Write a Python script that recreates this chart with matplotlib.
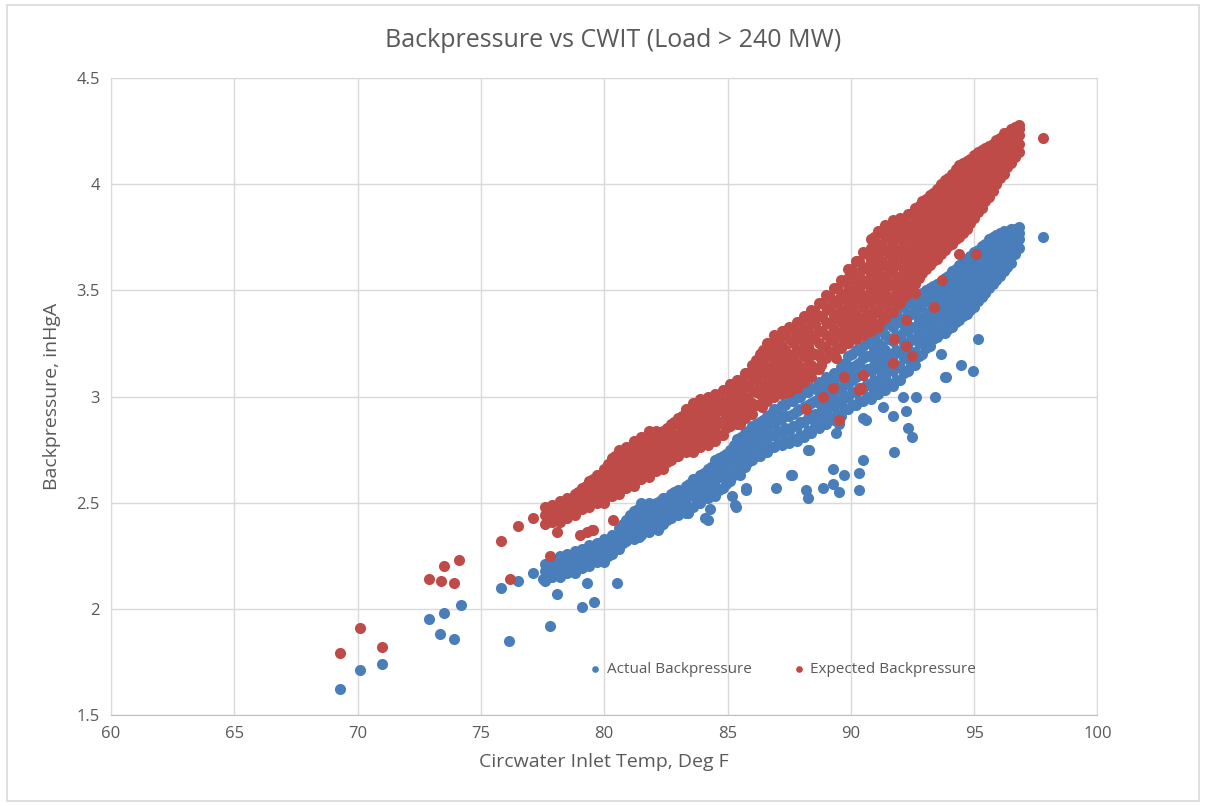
import matplotlib
matplotlib.use("Agg")
import matplotlib.pyplot as plt
from matplotlib.patches import Rectangle
from matplotlib.ticker import FormatStrFormatter

TEXT = "#595959"
GRID = "#D9D9D9"
BLUE = "#4A7EBB"
RED = "#BE4B48"

# Dense part of both series, one column of readings per inlet temperature
band_temp = [77.6, 77.9, 78.2, 78.5, 78.8, 79.1, 79.4, 79.7, 80.0, 80.3,
             80.6, 80.9, 81.2, 81.5, 81.8, 82.1, 82.4, 82.7, 83.0, 83.3,
             83.6, 83.9, 84.2, 84.5, 84.8, 85.1, 85.4, 85.7, 86.0, 86.3,
             86.6, 86.9, 87.2, 87.5, 87.8, 88.1, 88.4, 88.7, 89.0, 89.3,
             89.6, 89.9, 90.2, 90.5, 90.8, 91.1, 91.4, 91.7, 92.0, 92.3,
             92.6, 92.9, 93.2, 93.5, 93.8, 94.1, 94.4, 94.7, 95.0, 95.3,
             95.6, 95.9, 96.2, 96.5, 96.8]

band_mid_temp = [77.75, 78.05, 78.35, 78.65, 78.95, 79.25, 79.55, 79.85, 80.15, 80.45,
                 80.75, 81.05, 81.35, 81.65, 81.95, 82.25, 82.55, 82.85, 83.15, 83.45,
                 83.75, 84.05, 84.35, 84.65, 84.95, 85.25, 85.55, 85.85, 86.15, 86.45,
                 86.75, 87.05, 87.35, 87.65, 87.95, 88.25, 88.55, 88.85, 89.15, 89.45,
                 89.75, 90.05, 90.35, 90.65, 90.95, 91.25, 91.55, 91.85, 92.15, 92.45,
                 92.75, 93.05, 93.35, 93.65, 93.95, 94.25, 94.55, 94.85, 95.15, 95.45,
                 95.75, 96.05, 96.35, 96.65]

actual_band_bp = [
    [2.13, 2.18, 2.21], [2.15, 2.20, 2.23], [2.15, 2.20, 2.25], [2.17, 2.22, 2.26],
    [2.17, 2.22, 2.27], [2.19, 2.24, 2.28], [2.20, 2.25, 2.30], [2.22, 2.27, 2.31],
    [2.22, 2.28, 2.33], [2.26, 2.31, 2.35], [2.28, 2.33, 2.38], [2.32, 2.37, 2.42],
    [2.33, 2.38, 2.43, 2.46], [2.35, 2.40, 2.45, 2.50], [2.36, 2.41, 2.46, 2.50],
    [2.39, 2.44, 2.50], [2.40, 2.45, 2.49, 2.52], [2.43, 2.48, 2.54],
    [2.44, 2.49, 2.53, 2.56], [2.47, 2.52, 2.58], [2.48, 2.53, 2.57, 2.61],
    [2.50, 2.55, 2.59, 2.63], [2.52, 2.57, 2.62, 2.66], [2.53, 2.58, 2.64, 2.70],
    [2.57, 2.62, 2.67, 2.72], [2.60, 2.65, 2.70, 2.75], [2.64, 2.69, 2.75, 2.80],
    [2.67, 2.72, 2.78, 2.83], [2.70, 2.75, 2.81, 2.86], [2.72, 2.77, 2.83, 2.88],
    [2.74, 2.80, 2.86, 2.91], [2.76, 2.82, 2.88, 2.94], [2.77, 2.83, 2.90, 2.96],
    [2.78, 2.84, 2.91, 2.98], [2.79, 2.86, 2.93, 3.00], [2.81, 2.88, 2.95, 3.02],
    [2.83, 2.90, 2.97, 3.04], [2.85, 2.91, 2.97, 3.02, 3.07],
    [2.87, 2.93, 2.99, 3.04, 3.09], [2.89, 2.95, 3.00, 3.06, 3.11],
    [2.91, 2.97, 3.03, 3.09, 3.14], [2.94, 3.00, 3.06, 3.12, 3.19],
    [2.96, 3.02, 3.09, 3.15, 3.22], [2.98, 3.04, 3.11, 3.18, 3.24],
    [2.99, 3.05, 3.12, 3.19, 3.25, 3.28], [3.01, 3.07, 3.13, 3.19, 3.25, 3.31],
    [3.03, 3.09, 3.16, 3.22, 3.29, 3.35], [3.05, 3.12, 3.19, 3.26, 3.33, 3.39],
    [3.08, 3.14, 3.21, 3.28, 3.35, 3.42], [3.12, 3.18, 3.25, 3.31, 3.38, 3.44],
    [3.15, 3.21, 3.27, 3.33, 3.40, 3.46], [3.20, 3.26, 3.32, 3.37, 3.43, 3.49],
    [3.24, 3.29, 3.35, 3.40, 3.46, 3.51], [3.28, 3.33, 3.38, 3.43, 3.48, 3.53],
    [3.30, 3.35, 3.41, 3.46, 3.51, 3.56], [3.33, 3.38, 3.43, 3.49, 3.54, 3.59],
    [3.36, 3.41, 3.46, 3.52, 3.57, 3.62], [3.39, 3.44, 3.49, 3.55, 3.60, 3.65],
    [3.42, 3.47, 3.52, 3.58, 3.63, 3.68], [3.47, 3.52, 3.57, 3.62, 3.67, 3.71],
    [3.51, 3.56, 3.61, 3.65, 3.70, 3.74], [3.55, 3.60, 3.64, 3.68, 3.72, 3.76],
    [3.59, 3.63, 3.67, 3.71, 3.75, 3.78], [3.63, 3.67, 3.71, 3.75, 3.79],
    [3.70, 3.74, 3.77, 3.80],
]

actual_mid_bp = [
    [2.15, 2.20], [2.17, 2.22], [2.18, 2.23], [2.19, 2.24], [2.20, 2.25],
    [2.21, 2.27], [2.23, 2.28], [2.24, 2.30], [2.25, 2.31], [2.28, 2.34],
    [2.31, 2.36, 2.40], [2.34, 2.39, 2.44], [2.35, 2.41, 2.47], [2.37, 2.43, 2.48],
    [2.38, 2.43, 2.48], [2.41, 2.46, 2.51], [2.42, 2.47, 2.52], [2.45, 2.50, 2.55],
    [2.46, 2.51, 2.56], [2.48, 2.54, 2.59], [2.50, 2.56, 2.61], [2.52, 2.58, 2.64],
    [2.54, 2.60, 2.67], [2.56, 2.62, 2.68, 2.71], [2.59, 2.65, 2.70, 2.73],
    [2.63, 2.68, 2.73, 2.77], [2.66, 2.71, 2.76, 2.81], [2.69, 2.74, 2.79, 2.84],
    [2.72, 2.77, 2.82, 2.87], [2.74, 2.79, 2.84, 2.89], [2.76, 2.82, 2.87, 2.92],
    [2.78, 2.84, 2.89, 2.94], [2.79, 2.85, 2.91, 2.96], [2.80, 2.86, 2.92, 2.98],
    [2.82, 2.88, 2.94, 3.00], [2.84, 2.90, 2.96, 3.02], [2.86, 2.92, 2.98, 3.04],
    [2.88, 2.94, 3.00, 3.06], [2.90, 2.96, 3.02, 3.08], [2.92, 2.98, 3.04, 3.10],
    [2.94, 3.00, 3.06, 3.12, 3.16], [2.96, 3.02, 3.08, 3.14, 3.20],
    [2.98, 3.04, 3.10, 3.16, 3.22], [3.00, 3.06, 3.13, 3.19, 3.25],
    [3.02, 3.08, 3.15, 3.22, 3.28], [3.04, 3.10, 3.17, 3.24, 3.31],
    [3.06, 3.13, 3.20, 3.27, 3.34], [3.08, 3.15, 3.22, 3.29, 3.36, 3.40],
    [3.11, 3.18, 3.25, 3.31, 3.37, 3.42], [3.15, 3.21, 3.27, 3.33, 3.39, 3.44],
    [3.19, 3.25, 3.30, 3.36, 3.42, 3.47], [3.23, 3.28, 3.34, 3.39, 3.45, 3.50],
    [3.27, 3.32, 3.37, 3.42, 3.47, 3.52], [3.30, 3.35, 3.40, 3.45, 3.50, 3.54],
    [3.32, 3.37, 3.42, 3.47, 3.52, 3.57], [3.35, 3.40, 3.45, 3.50, 3.55, 3.60],
    [3.38, 3.43, 3.48, 3.53, 3.58, 3.63], [3.41, 3.46, 3.51, 3.56, 3.61, 3.66],
    [3.45, 3.50, 3.55, 3.60, 3.65, 3.69], [3.49, 3.54, 3.59, 3.64, 3.68, 3.72],
    [3.53, 3.58, 3.62, 3.66, 3.70, 3.75], [3.57, 3.61, 3.65, 3.69, 3.73, 3.77],
    [3.61, 3.65, 3.69, 3.73, 3.77], [3.67, 3.71, 3.75, 3.79],
]

expected_band_bp = [
    [2.40, 2.44, 2.48], [2.41, 2.46, 2.49], [2.41, 2.46, 2.51], [2.43, 2.48, 2.52],
    [2.44, 2.49, 2.54], [2.47, 2.52, 2.57], [2.48, 2.53, 2.58, 2.60],
    [2.50, 2.55, 2.60, 2.63], [2.50, 2.55, 2.61, 2.66],
    [2.53, 2.58, 2.63, 2.68, 2.71], [2.54, 2.59, 2.64, 2.70, 2.75],
    [2.57, 2.62, 2.67, 2.72, 2.76], [2.58, 2.63, 2.68, 2.74, 2.79],
    [2.61, 2.66, 2.71, 2.76, 2.81], [2.62, 2.67, 2.72, 2.78, 2.84],
    [2.65, 2.70, 2.75, 2.80, 2.84], [2.66, 2.71, 2.76, 2.81, 2.84],
    [2.70, 2.74, 2.79, 2.84, 2.87], [2.72, 2.77, 2.82, 2.87, 2.90],
    [2.74, 2.79, 2.84, 2.89, 2.94], [2.74, 2.80, 2.85, 2.91, 2.97],
    [2.76, 2.81, 2.87, 2.93, 2.99], [2.77, 2.83, 2.89, 2.95, 3.00],
    [2.79, 2.84, 2.90, 2.96, 3.01], [2.82, 2.87, 2.93, 2.98, 3.03],
    [2.86, 2.91, 2.96, 3.01, 3.06], [2.87, 2.93, 2.98, 3.03, 3.08],
    [2.90, 2.95, 3.00, 3.06, 3.11], [2.92, 2.97, 3.03, 3.09, 3.15],
    [2.96, 3.01, 3.06, 3.11, 3.16, 3.20], [2.98, 3.03, 3.09, 3.14, 3.20, 3.25],
    [3.00, 3.06, 3.11, 3.17, 3.23, 3.29], [3.01, 3.06, 3.12, 3.18, 3.24, 3.31],
    [3.02, 3.08, 3.14, 3.20, 3.27, 3.33], [3.04, 3.10, 3.16, 3.22, 3.29, 3.35],
    [3.07, 3.13, 3.19, 3.25, 3.32, 3.38], [3.09, 3.15, 3.21, 3.28, 3.35, 3.41],
    [3.13, 3.19, 3.25, 3.31, 3.38, 3.44], [3.18, 3.23, 3.29, 3.35, 3.42, 3.48],
    [3.20, 3.26, 3.32, 3.38, 3.45, 3.51], [3.23, 3.29, 3.35, 3.41, 3.48, 3.55],
    [3.25, 3.31, 3.38, 3.44, 3.50, 3.56, 3.60],
    [3.27, 3.33, 3.39, 3.46, 3.52, 3.58, 3.64],
    [3.29, 3.35, 3.42, 3.48, 3.55, 3.61, 3.68],
    [3.31, 3.37, 3.44, 3.50, 3.57, 3.64, 3.70, 3.74],
    [3.33, 3.40, 3.46, 3.53, 3.59, 3.66, 3.72, 3.78],
    [3.37, 3.43, 3.49, 3.56, 3.62, 3.69, 3.75, 3.81],
    [3.40, 3.46, 3.52, 3.58, 3.65, 3.71, 3.77, 3.83],
    [3.44, 3.50, 3.56, 3.62, 3.68, 3.74, 3.79, 3.84],
    [3.49, 3.54, 3.60, 3.66, 3.71, 3.76, 3.81, 3.86],
    [3.53, 3.58, 3.64, 3.69, 3.74, 3.79, 3.84, 3.89],
    [3.58, 3.63, 3.68, 3.73, 3.78, 3.83, 3.88, 3.92],
    [3.62, 3.67, 3.72, 3.77, 3.81, 3.86, 3.91, 3.95],
    [3.65, 3.70, 3.75, 3.80, 3.85, 3.89, 3.94, 3.98],
    [3.69, 3.74, 3.79, 3.84, 3.88, 3.93, 3.98, 4.02],
    [3.72, 3.77, 3.82, 3.87, 3.91, 3.96, 4.01, 4.05],
    [3.75, 3.80, 3.85, 3.90, 3.95, 4.00, 4.05, 4.09],
    [3.79, 3.84, 3.89, 3.94, 3.98, 4.03, 4.07, 4.11],
    [3.84, 3.89, 3.93, 3.98, 4.02, 4.06, 4.10, 4.14],
    [3.89, 3.94, 3.98, 4.03, 4.07, 4.12, 4.16],
    [3.94, 3.99, 4.03, 4.07, 4.11, 4.15, 4.18],
    [4.00, 4.04, 4.08, 4.12, 4.17, 4.21],
    [4.05, 4.09, 4.13, 4.17, 4.21, 4.24],
    [4.10, 4.14, 4.18, 4.22, 4.26],
    [4.15, 4.19, 4.23, 4.26, 4.28],
]

expected_mid_bp = [
    [2.42, 2.47], [2.43, 2.48], [2.44, 2.49], [2.46, 2.51], [2.47, 2.52, 2.55],
    [2.49, 2.55, 2.58], [2.51, 2.56, 2.61], [2.52, 2.57, 2.63],
    [2.53, 2.58, 2.63, 2.68], [2.55, 2.61, 2.66, 2.72], [2.57, 2.62, 2.68, 2.74],
    [2.59, 2.65, 2.70, 2.76], [2.61, 2.66, 2.72, 2.78], [2.63, 2.69, 2.75, 2.81],
    [2.65, 2.70, 2.76, 2.82], [2.67, 2.73, 2.78, 2.83], [2.69, 2.74, 2.79, 2.85],
    [2.72, 2.77, 2.82, 2.88], [2.75, 2.80, 2.86, 2.91], [2.76, 2.82, 2.88, 2.94],
    [2.77, 2.83, 2.89, 2.96], [2.78, 2.84, 2.91, 2.97], [2.80, 2.86, 2.92, 2.98],
    [2.82, 2.88, 2.94, 3.00], [2.85, 2.91, 2.97, 3.03], [2.88, 2.94, 3.00, 3.05],
    [2.90, 2.96, 3.02, 3.08], [2.93, 2.99, 3.05, 3.11],
    [2.96, 3.02, 3.08, 3.13, 3.17], [2.99, 3.05, 3.11, 3.17, 3.22],
    [3.01, 3.07, 3.13, 3.19, 3.25], [3.02, 3.08, 3.14, 3.21, 3.27],
    [3.03, 3.09, 3.16, 3.22, 3.29], [3.05, 3.11, 3.18, 3.25, 3.32],
    [3.08, 3.14, 3.21, 3.28, 3.34], [3.10, 3.17, 3.24, 3.31, 3.37],
    [3.13, 3.20, 3.27, 3.34, 3.40], [3.17, 3.24, 3.31, 3.38, 3.44],
    [3.21, 3.27, 3.34, 3.41, 3.47], [3.23, 3.30, 3.37, 3.44, 3.51],
    [3.26, 3.33, 3.40, 3.47, 3.54], [3.28, 3.35, 3.42, 3.49, 3.55, 3.60],
    [3.30, 3.37, 3.44, 3.51, 3.58, 3.64], [3.32, 3.39, 3.46, 3.53, 3.60, 3.67],
    [3.34, 3.41, 3.48, 3.55, 3.62, 3.69, 3.75],
    [3.36, 3.43, 3.50, 3.57, 3.64, 3.71, 3.78],
    [3.40, 3.46, 3.53, 3.60, 3.67, 3.74, 3.80],
    [3.43, 3.49, 3.55, 3.62, 3.68, 3.75, 3.82],
    [3.47, 3.53, 3.59, 3.65, 3.71, 3.77, 3.83],
    [3.52, 3.57, 3.63, 3.69, 3.74, 3.80, 3.86],
    [3.56, 3.61, 3.66, 3.71, 3.76, 3.81, 3.86, 3.90],
    [3.60, 3.65, 3.70, 3.75, 3.80, 3.84, 3.89, 3.93],
    [3.64, 3.69, 3.74, 3.78, 3.83, 3.87, 3.92, 3.96],
    [3.67, 3.72, 3.77, 3.82, 3.86, 3.91, 3.96, 4.00],
    [3.71, 3.76, 3.80, 3.85, 3.90, 3.94, 3.99, 4.03],
    [3.74, 3.79, 3.83, 3.88, 3.93, 3.98, 4.03, 4.07],
    [3.77, 3.82, 3.87, 3.92, 3.97, 4.01, 4.06, 4.10],
    [3.82, 3.87, 3.91, 3.96, 4.00, 4.04, 4.08, 4.12],
    [3.87, 3.91, 3.96, 4.00, 4.05, 4.09, 4.13, 4.15],
    [3.92, 3.96, 4.01, 4.05, 4.09, 4.13, 4.17],
    [3.97, 4.02, 4.06, 4.10, 4.15, 4.19],
    [4.03, 4.07, 4.11, 4.15, 4.19, 4.22],
    [4.08, 4.12, 4.16, 4.20, 4.24],
    [4.13, 4.17, 4.21, 4.25, 4.27],
]

# Sparse readings outside the dense band
actual_temp = [69.3, 70.1, 71.0, 72.9, 73.5, 74.2, 73.35, 73.9, 75.8, 76.15,
               76.5, 77.1, 77.5, 77.8, 78.1, 79.1, 79.3, 79.6, 80.5, 81.4,
               82.2, 83.3, 84.1, 84.3, 85.35, 85.76, 86.97, 88.19, 88.26, 88.86,
               89.27, 89.54, 90.35, 90.35, 90.49, 89.27, 89.74, 87.58, 88.26, 91.76,
               85.2, 85.76, 85.49, 85.3, 84.2, 89.4, 89.54, 90.62, 91.3, 91.7,
               92.24, 92.3, 92.5, 92.1, 92.64, 93.4, 93.8, 93.66, 94.47, 94.94,
               95.15, 93.86, 97.78, 88.3, 87.6, 90.5, 83.4, 82.25]
actual_bp = [1.62, 1.71, 1.74, 1.95, 1.98, 2.02, 1.88, 1.86, 2.10, 1.85,
             2.13, 2.17, 2.14, 1.92, 2.07, 2.01, 2.12, 2.03, 2.12, 2.34,
             2.37, 2.45, 2.43, 2.47, 2.48, 2.57, 2.57, 2.56, 2.52, 2.57,
             2.59, 2.55, 2.56, 2.64, 2.70, 2.66, 2.63, 2.63, 2.75, 2.74,
             2.53, 2.56, 2.63, 2.49, 2.42, 2.83, 2.87, 2.89, 2.95, 2.91,
             2.93, 2.85, 2.81, 3.00, 3.00, 3.00, 3.09, 3.20, 3.15, 3.12,
             3.27, 3.09, 3.75, 2.75, 2.63, 2.90, 2.45, 2.39]

expected_temp = [69.3, 70.1, 71.0, 72.9, 73.4, 73.5, 73.9, 74.1, 75.8, 76.2,
                 76.5, 77.1, 77.8, 78.1, 79.0, 79.3, 79.5, 80.35, 79.55, 85.8,
                 85.5, 86.4, 88.19, 89.54, 88.86, 89.27, 90.42, 90.49, 89.74, 91.7,
                 92.5, 92.24, 91.76, 92.24, 93.39, 88.8, 89.4, 95.08, 93.7, 92.6,
                 94.0, 94.4, 90.35, 97.78]
expected_bp = [1.79, 1.91, 1.82, 2.14, 2.13, 2.20, 2.12, 2.23, 2.32, 2.14,
               2.39, 2.43, 2.25, 2.36, 2.35, 2.36, 2.37, 2.42, 2.37, 2.92,
               2.87, 2.95, 2.94, 2.89, 3.00, 3.04, 3.04, 3.10, 3.09, 3.16,
               3.19, 3.24, 3.27, 3.36, 3.42, 3.15, 3.18, 3.67, 3.55, 3.49,
               3.72, 3.67, 3.03, 4.22]

x_ticks = [60, 65, 70, 75, 80, 85, 90, 95, 100]
y_ticks = [1.5, 2, 2.5, 3, 3.5, 4, 4.5]


def collect(temps, columns, xs, ys):
    for t, col in zip(temps, columns):
        for bp in col:
            xs.append(t)
            ys.append(bp)


def series(main_cols, mid_cols, extra_temp, extra_bp):
    xs, ys = list(extra_temp), list(extra_bp)
    collect(band_temp, main_cols, xs, ys)
    collect(band_mid_temp, mid_cols, xs, ys)
    return xs, ys


plt.rcParams["font.family"] = ["Open Sans", "DejaVu Sans"]

fig = plt.figure(figsize=(12.06, 8.06), dpi=100)
fig.patches.append(Rectangle((0.006, 0.006), 0.988, 0.988, transform=fig.transFigure,
                             fill=False, edgecolor=GRID, linewidth=1.2))
ax = fig.add_axes([0.092, 0.113, 0.818, 0.790])

act_x, act_y = series(actual_band_bp, actual_mid_bp, actual_temp, actual_bp)
exp_x, exp_y = series(expected_band_bp, expected_mid_bp, expected_temp, expected_bp)

ax.scatter(act_x, act_y, s=64, color=BLUE, linewidths=0, label="Actual Backpressure", zorder=3)
ax.scatter(exp_x, exp_y, s=64, color=RED, linewidths=0, label="Expected Backpressure", zorder=4)

ax.set_xlim(60, 100)
ax.set_ylim(1.5, 4.5)
ax.set_xticks(x_ticks)
ax.set_yticks(y_ticks)
ax.yaxis.set_major_formatter(FormatStrFormatter("%g"))
ax.grid(True, color=GRID, linewidth=1.0)
ax.set_axisbelow(True)
for side in ["top", "right", "left"]:
    ax.spines[side].set_color(GRID)
ax.spines["bottom"].set_color("#BFBFBF")
ax.tick_params(length=0, labelsize=12, colors=TEXT, pad=8)

ax.set_xlabel("Circwater Inlet Temp, Deg F", fontsize=14, color=TEXT, labelpad=8)
ax.set_ylabel("Backpressure, inHgA", fontsize=14, color=TEXT, labelpad=11)
fig.text(0.508, 0.950, "Backpressure vs CWIT (Load > 240 MW)", ha="center", va="center",
         fontsize=18, color=TEXT)

leg = ax.legend(loc="center", bbox_to_anchor=(0.68, 0.071), ncol=2, frameon=False,
                markerscale=0.6, handlelength=1.0, handletextpad=0.25,
                columnspacing=2.6, fontsize=11)
for txt in leg.get_texts():
    txt.set_color(TEXT)

fig.savefig("out.png", dpi=100)
